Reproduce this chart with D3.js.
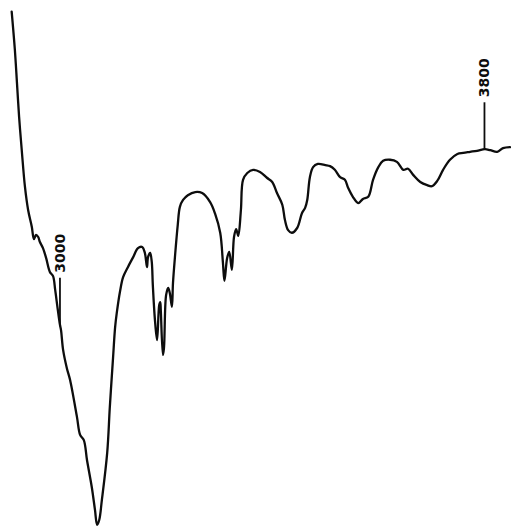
<!DOCTYPE html>
<html>
<head>
<meta charset="utf-8">
<script src="https://cdn.jsdelivr.net/npm/d3@7"></script>
<style>
  html, body { margin: 0; padding: 0; background: #fff; }
  svg { display: block; }
</style>
</head>
<body>
<svg id="chart" width="511" height="529"></svg>
<script>
// IR trace: wavenumber (cm-1) against transmittance (%)
const wavenumbers = [
  2909, 2915, 2919, 2923, 2928, 2934, 2940, 2947, 2951, 2955, 2959, 2962, 2968, 2974, 2981, 2987,
  2991, 2996, 3000, 3002, 3006, 3013, 3019, 3032, 3038, 3045, 3051, 3060, 3066, 3070, 3074, 3079,
  3089, 3094, 3100, 3104, 3107, 3113, 3119, 3128, 3138, 3147, 3155, 3160, 3164, 3166, 3170, 3173,
  3175, 3179, 3183, 3187, 3189, 3190, 3194, 3196, 3200, 3204, 3207, 3211, 3213, 3217, 3222, 3226,
  3232, 3241, 3255, 3268, 3283, 3292, 3302, 3307, 3310, 3315, 3319, 3324, 3328, 3332, 3336, 3341,
  3345, 3353, 3364, 3377, 3390, 3400, 3409, 3419, 3424, 3430, 3437, 3447, 3456, 3462, 3466, 3471,
  3477, 3486, 3500, 3509, 3518, 3528, 3537, 3543, 3552, 3562, 3571, 3581, 3590, 3600, 3609, 3622,
  3635, 3647, 3656, 3666, 3679, 3692, 3701, 3711, 3722, 3735, 3749, 3760, 3773, 3786, 3801, 3811,
  3824, 3835, 3848
];
const transmittance = [
  97.8, 90.6, 84.3, 77.9, 71.6, 64.7, 60.3, 57.1, 54.8, 55.6, 55.2, 54.3, 53.1, 51.2, 48.6, 47.8,
  45.2, 41.4, 38.6, 37.6, 33.8, 30.4, 28.2, 21.2, 17.8, 16.8, 13.0, 7.9, 3.6, 0.8, 1.7, 5.5,
  14.4, 23.1, 32.3, 38.2, 40.8, 44.8, 47.6, 49.5, 51.4, 53.1, 53.3, 52.2, 49.5, 51.4, 52.2, 50.5,
  46.1, 39.5, 35.7, 42.3, 42.9, 41.4, 32.9, 34.2, 44.2, 45.6, 44.6, 42.0, 46.5, 51.8, 57.5, 60.9,
  62.2, 63.1, 63.7, 63.5, 61.8, 59.7, 56.0, 50.5, 46.9, 51.2, 52.4, 49.0, 55.2, 56.7, 55.4, 60.3,
  66.0, 67.3, 67.9, 67.5, 66.4, 65.6, 63.5, 61.3, 58.4, 56.5, 56.0, 56.9, 59.7, 60.7, 62.2, 66.5,
  68.4, 69.0, 68.8, 68.6, 67.9, 66.5, 66.0, 64.5, 62.8, 61.6, 62.4, 62.8, 66.0, 68.4, 69.6, 69.8,
  69.4, 67.9, 68.1, 66.9, 65.6, 65.0, 64.8, 65.8, 67.9, 69.8, 70.9, 71.1, 71.3, 71.5, 71.8, 71.6,
  71.3, 72.0, 72.2
];
// Marked wavenumbers with their labels
const markers = [3000, 3800];
const markerLabels = ["3000", "3800"];

const width = 511, height = 529;
const svg = d3.select("#chart");

const x = d3.scaleLinear().domain([2887, 3850]).range([0, width]);
const y = d3.scaleLinear().domain([0, 100]).range([height, 0]);

const points = wavenumbers.map((w, i) => [w, transmittance[i]]);

const line = d3.line()
  .x(d => x(d[0]))
  .y(d => y(d[1]))
  .curve(d3.curveCatmullRom.alpha(0.5));

svg.append("path")
  .datum(points)
  .attr("fill", "none")
  .attr("stroke", "#0d0d0d")
  .attr("stroke-width", 2.3)
  .attr("stroke-linejoin", "round")
  .attr("stroke-linecap", "round")
  .attr("d", line);

// Interpolated transmittance at a wavenumber, to anchor marker lines on the trace
function valueAt(w) {
  const i = d3.bisector(d => d[0]).left(points, w);
  if (i <= 0) return points[0][1];
  if (i >= points.length) return points[points.length - 1][1];
  const a = points[i - 1], b = points[i];
  const t = (w - a[0]) / (b[0] - a[0]);
  return a[1] + t * (b[1] - a[1]);
}

const tickLen = 47, gap = 5;
markers.forEach((w, i) => {
  const px = x(w);
  const py = y(valueAt(w));
  svg.append("line")
    .attr("x1", px).attr("x2", px)
    .attr("y1", py).attr("y2", py - tickLen)
    .attr("stroke", "#0d0d0d")
    .attr("stroke-width", 1.8);
  svg.append("text")
    .attr("transform", `translate(${px},${py - tickLen - gap}) rotate(-90)`)
    .attr("text-anchor", "start")
    .attr("dominant-baseline", "central")
    .attr("font-family", "DejaVu Sans, sans-serif")
    .attr("font-size", 14)
    .attr("font-weight", "bold")
    .attr("fill", "#0d0d0d")
    .text(markerLabels[i]);
});
</script>
</body>
</html>
